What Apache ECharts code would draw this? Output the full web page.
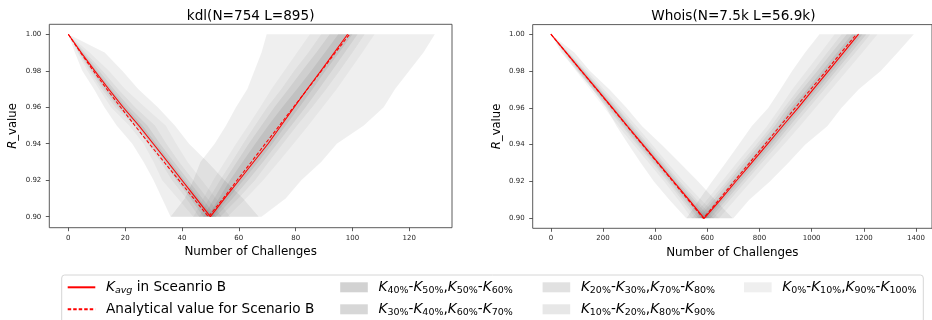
<!DOCTYPE html>
<html>
<head>
<meta charset="utf-8">
<script src="https://cdn.jsdelivr.net/npm/echarts@6/dist/echarts.min.js"></script>
<style>
  html, body { margin: 0; padding: 0; background: #fff; }
  #chart { width: 932px; height: 320px; }
</style>
</head>
<body>
<div id="chart"></div>
<script>
// R levels shared by every curve (top to bottom)
const levels = [1.00, 0.99, 0.98, 0.97, 0.96, 0.95, 0.94, 0.93, 0.92, 0.91, 0.90];

// percentile boundaries, one row per boundary, columns follow `levels`
const pctBounds = [0, 10, 20, 30, 40, 60, 70, 80, 90, 100];

// ---- kdl ----
const kdlDescAvg    = [0, 4.5, 9.3, 14.2, 19.3, 24.8, 29.9, 35, 40, 45, 50];
const kdlDescTheory = [0, 4.3, 8.8, 13.5, 18.4, 23.4, 28.5, 33.7, 38.9, 44.1, 49.3];
const kdlAscAvg     = [98.3, 93.6, 88.9, 84.1, 79.5, 74.9, 70.3, 65.2, 60.1, 55, 50];
const kdlAscTheory  = [99, 94, 89.1, 84.2, 79.2, 74.3, 69.3, 64.4, 59.4, 54.5, 49.5];
const kdlDescPct = [
  [0, 2.3, 4.9, 9, 12.7, 17, 22.5, 26.5, 30, 33, 36],
  [0, 3.2, 6.7, 10.8, 15, 21.4, 26.5, 30, 33, 38.5, 44],
  [0, 3.6, 7.5, 11.7, 16.5, 23.1, 28, 32.5, 36.5, 41.5, 46],
  [0, 3.9, 8.1, 12.5, 17.5, 23.9, 28.8, 33.8, 38, 43, 47.5],
  [0, 4.2, 8.7, 13.3, 18.5, 24.3, 29.4, 34.5, 39, 44, 49],
  [0, 4.9, 9.9, 15, 20.3, 26.1, 31, 36, 41, 46, 51],
  [0, 5.3, 10.8, 16, 21.5, 27.8, 32.3, 37.2, 42.2, 47.2, 52],
  [0, 6, 12, 17.5, 23.5, 30.5, 34.5, 39, 44, 49, 54],
  [0, 7.5, 14.3, 20, 27, 34.3, 38, 42, 47, 52, 57],
  [0, 12.8, 19, 24.6, 31.5, 37.5, 42.5, 49, 55, 61.5, 67]
];
const kdlAscPct = [
  [69.8, 68, 65.5, 63, 59, 55.5, 51.5, 46.5, 44, 41, 36],
  [85, 80.5, 76, 71.5, 67.5, 63.3, 59, 55, 51, 47.5, 44],
  [89, 84.5, 79.5, 75, 70, 65.7, 61.5, 57.5, 53.4, 49.5, 46],
  [92, 87.3, 82.3, 77.5, 72.5, 68, 63.5, 59.3, 55.1, 51.3, 47.5],
  [95, 90.3, 85.5, 80.5, 75.3, 70.4, 65.8, 61.3, 56.9, 53, 49],
  [100, 95.3, 90.5, 86, 81.3, 76.5, 71.8, 66.8, 61.6, 56.3, 51],
  [101.8, 97.3, 92.8, 88.2, 83.5, 78.5, 73.5, 68.5, 63.3, 57.8, 52],
  [104.3, 100, 95.5, 90.8, 85.8, 80.5, 75.5, 70.5, 65.7, 59.8, 53.5],
  [107.8, 103.5, 99, 94.5, 89.5, 84.5, 79.3, 74, 68.6, 62.5, 56],
  [129, 125, 120, 115, 111, 104, 94.5, 89, 82, 76.5, 68]
];

// ---- Whois ----
const whoisDescAvg    = [0, 59, 118, 177, 236, 294, 353, 412, 471, 530, 588];
const whoisDescTheory = [0, 58.5, 117, 175.5, 234, 292.5, 351, 409.5, 468, 526.5, 585];
const whoisAscAvg     = [1180, 1122, 1064, 1006, 948, 888, 829, 769, 709, 650, 590];
const whoisAscTheory  = [1172, 1113, 1055, 996, 937, 878, 820, 761, 702, 644, 585];
const whoisDescPct = [
  [0, 40, 100, 160, 212, 252, 298, 345, 395, 455, 519],
  [0, 47, 96, 150, 204, 259, 317, 376, 434, 489, 540],
  [0, 51, 104, 160, 216, 272, 330, 389, 447, 502, 555],
  [0, 54, 108, 165, 222, 279, 337, 396, 455, 511, 565],
  [0, 56, 112, 170, 229, 287, 345, 404, 463, 520, 576],
  [0, 62, 124, 184, 243, 302, 361, 420, 479, 540, 600],
  [0, 64, 128, 189, 250, 309, 368, 427, 487, 550, 612],
  [0, 67, 132, 194, 256, 316, 376, 435, 495, 560, 625],
  [0, 72, 140, 204, 267, 329, 389, 448, 510, 577, 645],
  [0, 90, 150, 225, 290, 350, 425, 495, 565, 630, 697]
];
const whoisAscPct = [
  [1030, 975, 925, 880, 834, 770, 720, 670, 618, 568, 520],
  [1088, 1035, 980, 925, 878, 828, 770, 712, 655, 598, 540],
  [1115, 1060, 1005, 948, 895, 845, 788, 730, 673, 614, 555],
  [1135, 1078, 1022, 964, 908, 858, 800, 742, 684, 625, 565],
  [1155, 1098, 1040, 982, 922, 872, 813, 755, 696, 637, 578],
  [1195, 1138, 1080, 1020, 960, 902, 843, 783, 722, 662, 600],
  [1210, 1152, 1093, 1034, 974, 915, 856, 795, 734, 673, 612],
  [1225, 1168, 1108, 1049, 990, 930, 870, 808, 747, 686, 625],
  [1253, 1195, 1135, 1075, 1015, 955, 893, 830, 768, 706, 645],
  [1392, 1330, 1265, 1180, 1115, 1060, 975, 910, 840, 760, 700]
];

// axis ticks
const kdlXTicks   = [0, 20, 40, 60, 80, 100, 120];
const whoisXTicks = [0, 200, 400, 600, 800, 1000, 1200, 1400];
const yTicks      = [0.90, 0.92, 0.94, 0.96, 0.98, 1.00];

// titles and legend text
const titles = ['kdl(N=754 L=895)', 'Whois(N=7.5k L=56.9k)'];
const avgName = 'K_avg in Sceanrio B';
const theoryName = 'Analytical value for Scenario B';
// band k spans boundary rows k and 9-k (outermost first)
const bandNames = [0, 1, 2, 3, 4].map(k =>
  'K' + pctBounds[k] + '%-K' + (pctBounds[k] + 10) + '%,K' +
  (pctBounds[9 - k] - 10) + '%-K' + pctBounds[9 - k] + '%');
const bandAlpha  = [0.063, 0.034, 0.045, 0.058, 0.066];
const bandSwatch = ['#efefef', '#e7e7e7', '#e1e1e1', '#d7d7d7', '#d2d2d2'];

const FONT = 'DejaVu Sans';

function branchBand(gridIdx, pct, k) {
  const left = pct[k], right = pct[9 - k];
  const pts = [];
  for (let i = 0; i < levels.length; i++) pts.push([left[i], levels[i]]);
  for (let i = levels.length - 1; i >= 0; i--) pts.push([right[i], levels[i]]);
  return {
    type: 'custom',
    name: bandNames[k],
    xAxisIndex: gridIdx,
    yAxisIndex: gridIdx,
    data: pts,
    encode: { x: 0, y: 1 },
    silent: true,
    animation: false,
    z: 2,
    renderItem: function (params, api) {
      if (params.dataIndex !== 0) return null;
      const poly = pts.map(p => api.coord(p));
      return {
        type: 'polygon',
        shape: { points: poly },
        style: { fill: 'rgba(0,0,0,' + bandAlpha[k] + ')', stroke: null }
      };
    }
  };
}

function vCurve(desc, asc) {
  const out = [];
  for (let i = 0; i < levels.length; i++) out.push([desc[i], levels[i]]);
  for (let i = levels.length - 1; i >= 0; i--) out.push([asc[i], levels[i]]);
  return out;
}

function lineSeries(gridIdx, name, data, dashed) {
  return {
    type: 'line',
    name: name,
    xAxisIndex: gridIdx,
    yAxisIndex: gridIdx,
    data: data,
    symbol: 'none',
    showSymbol: false,
    animation: false,
    z: 5,
    lineStyle: { color: '#ff0000', width: 1.1, type: dashed ? [3.5, 2] : 'solid' },
    itemStyle: { color: '#ff0000' }
  };
}

const series = [];
[[kdlDescPct, kdlAscPct], [whoisDescPct, whoisAscPct]].forEach((pair, g) => {
  for (let k = 0; k < 5; k++) {
    series.push(branchBand(g, pair[0], k));
    series.push(branchBand(g, pair[1], k));
  }
});
series.push(lineSeries(0, avgName, vCurve(kdlDescAvg, kdlAscAvg), false));
series.push(lineSeries(0, theoryName, vCurve(kdlDescTheory, kdlAscTheory), true));
series.push(lineSeries(1, avgName, vCurve(whoisDescAvg, whoisAscAvg), false));
series.push(lineSeries(1, theoryName, vCurve(whoisDescTheory, whoisAscTheory), true));

const grids = [
  { left: 49.3, top: 24.3, width: 402.7, height: 203.4 },
  { left: 532.7, top: 24.6, width: 402.1, height: 203.7 }
];
const xRanges = [[-6.69, 135.03], [-69.7, 1461.6]];
const yRanges = [[0.89397, 1.00548], [0.89457, 1.00522]];
const xTickSets = [kdlXTicks, whoisXTicks];

const axisText = { fontFamily: FONT, fontSize: 7, color: '#262626' };
const tickStyle = { color: '#333', width: 0.8 };

const xAxis = grids.map((g, i) => ({
  type: 'value', gridIndex: i, min: xRanges[i][0], max: xRanges[i][1],
  axisLine: { show: false, onZero: false },
  splitLine: { show: false },
  axisTick: { show: true, inside: false, length: 3.5, lineStyle: tickStyle, customValues: xTickSets[i] },
  axisLabel: Object.assign({ margin: 6.5, customValues: xTickSets[i], formatter: v => String(v) }, axisText),
  name: 'Number of Challenges', nameLocation: 'middle', nameGap: 14,
  nameTextStyle: { fontFamily: FONT, fontSize: 11.9, color: '#000', verticalAlign: 'top' }
}));

const yAxis = grids.map((g, i) => ({
  type: 'value', gridIndex: i, min: yRanges[i][0], max: yRanges[i][1],
  axisLine: { show: false, onZero: false },
  splitLine: { show: false },
  axisTick: { show: true, inside: false, length: 3.5, lineStyle: tickStyle, customValues: yTicks },
  axisLabel: Object.assign({ margin: 8, customValues: yTicks, formatter: v => v.toFixed(2) }, axisText),
  name: '{r|R}_value', nameLocation: 'middle', nameGap: 30, nameRotate: 90,
  nameTextStyle: {
    fontFamily: FONT, fontSize: 11.6, color: '#000',
    rich: { r: { fontFamily: FONT, fontSize: 11.6, fontStyle: 'italic', color: '#000' } }
  }
}));

const richLegend = {
  g: { width: 5.7 },
  k: { fontFamily: FONT, fontSize: 13.6, fontStyle: 'italic', color: '#000', lineHeight: 16 },
  s: { fontFamily: FONT, fontSize: 9.5, color: '#000', lineHeight: 10, verticalAlign: 'bottom' },
  si: { fontFamily: FONT, fontSize: 9.5, fontStyle: 'italic', color: '#000', lineHeight: 10, verticalAlign: 'bottom' }
};
function legendLabel(name) {
  return '{g|}' + name
    .replace(/K_(avg)/g, '{k|K}{si|$1}')
    .replace(/K(\d+%)/g, '{k|K}{s|$1}');
}
const legendCols = [
  [avgName, theoryName],
  [bandNames[4], bandNames[3]],
  [bandNames[2], bandNames[1]],
  [bandNames[0]]
];
const legendLefts = [66.7, 340.2, 542.6, 744];
const legends = legendCols.map((names, c) => ({
  orient: 'vertical',
  left: legendLefts[c],
  top: 279.3,
  padding: 0,
  itemGap: 6,
  itemWidth: 27.6,
  itemHeight: 10,
  selectedMode: false,
  formatter: legendLabel,
  textStyle: { fontFamily: FONT, fontSize: 13.6, color: '#000', lineHeight: 16, rich: richLegend },
  data: names.map(n => {
    const k = bandNames.indexOf(n);
    if (k >= 0) return { name: n, icon: 'rect', itemStyle: { color: bandSwatch[k], opacity: 1 } };
    // line entries: keep the stroke, hide the marker glyph
    return { name: n, itemStyle: { color: 'rgba(0,0,0,0)', borderColor: 'rgba(0,0,0,0)', borderWidth: 0 } };
  })
}));

const chart = echarts.init(document.getElementById('chart'), null, { renderer: 'canvas' });
chart.setOption({
  animation: false,
  backgroundColor: '#fff',
  title: titles.map((t, i) => ({
    text: t,
    left: grids[i].left + grids[i].width / 2 - (i === 1 ? 0.4 : 0),
    top: 8,
    padding: 0,
    textAlign: 'center',
    textStyle: { fontFamily: FONT, fontSize: 13.6, fontWeight: 'normal', color: '#000', lineHeight: 17 }
  })),
  grid: grids.map(g => Object.assign({ show: true, borderColor: '#4a4a4a', borderWidth: 0.9, containLabel: false }, g)),
  xAxis: xAxis,
  yAxis: yAxis,
  legend: legends,
  graphic: [{
    type: 'rect', z: -1, silent: true,
    shape: { x: 61.7, y: 275, width: 861.6, height: 70, r: 3 },
    style: { fill: '#fff', stroke: '#d6d6d6', lineWidth: 1 }
  }],
  series: series
});
</script>
</body>
</html>
